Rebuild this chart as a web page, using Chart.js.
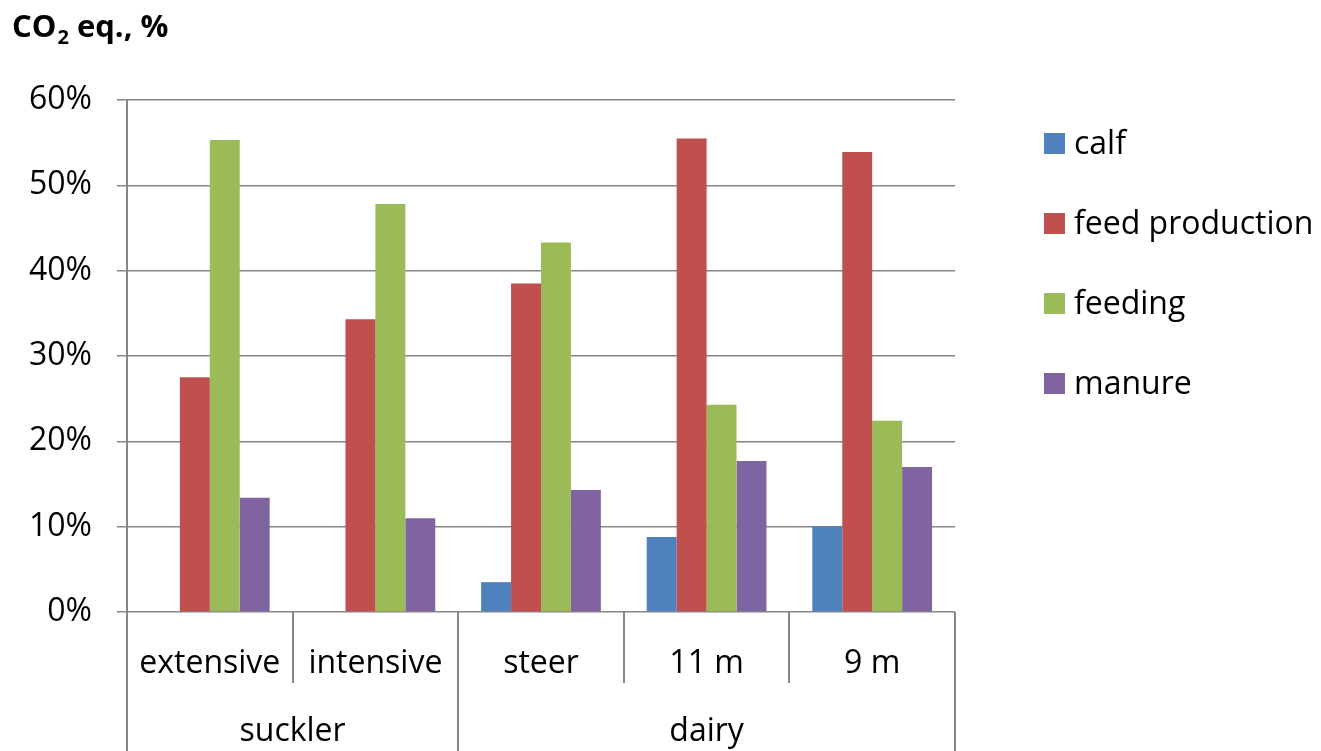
<!DOCTYPE html>
<html>
<head>
<meta charset="utf-8">
<title>CO2 eq. by production system</title>
<script src="https://cdn.jsdelivr.net/npm/chart.js@4.4.1/dist/chart.umd.min.js"></script>
<style>
  html, body { margin: 0; padding: 0; background: #fff; }
  #wrap { width: 1321px; height: 751px; }
</style>
</head>
<body>
<div id="wrap"><canvas id="barchart" width="1321" height="751"></canvas></div>
<script>
// categories and groups (two level x axis)
var categories = ["extensive", "intensive", "steer", "11 m", "9 m"];
var groupNames = ["suckler", "dairy"];
var groupSizes = [2, 3];

// series, values in % of CO2 eq.
var seriesNames = ["calf", "feed production", "feeding", "manure"];
var calf = [0, 0, 3.5, 8.8, 10.0];
var feedProduction = [27.5, 34.3, 38.5, 55.5, 53.9];
var feeding = [55.3, 47.8, 43.3, 24.3, 22.4];
var manure = [13.4, 11.0, 14.3, 17.7, 17.0];

// y axis ticks
var yTicks = [0, 10, 20, 30, 40, 50, 60];

var colors = ["#4F81BD", "#C0504D", "#9BBB59", "#8064A2"];
var lineColor = "#868686";
var fontName = "'Open Sans'";

var seriesValues = [calf, feedProduction, feeding, manure];
var datasets = [];
for (var i = 0; i < seriesNames.length; i++) {
    datasets.push({
        label: seriesNames[i],
        data: seriesValues[i],
        backgroundColor: colors[i],
        borderWidth: 0,
        categoryPercentage: 0.723,
        barPercentage: 1.0
    });
}

// draws title, group row of the x axis, separators and legend
var extras = {
    id: "extras",
    afterDraw: function (chart) {
        var ctx = chart.ctx;
        var area = chart.chartArea;
        var xs = chart.scales.x;
        var n = categories.length;

        ctx.save();

        // title with subscript
        ctx.fillStyle = "#000";
        ctx.textBaseline = "alphabetic";
        ctx.textAlign = "left";
        ctx.font = "bold 31px " + fontName;
        var tx = 12;
        ctx.fillText("CO", tx, 37);
        tx += ctx.measureText("CO").width + 1;
        ctx.font = "bold 20px " + fontName;
        ctx.fillText("2", tx, 44);
        tx += ctx.measureText("2").width;
        ctx.font = "bold 31px " + fontName;
        ctx.fillText(" eq., %", tx, 37);

        // separators between categories
        var bounds = [];
        for (var k = 0; k <= n; k++) {
            if (k === 0) bounds.push(area.left);
            else if (k === n) bounds.push(area.right);
            else bounds.push((xs.getPixelForValue(k - 1) + xs.getPixelForValue(k)) / 2);
        }
        var groupEdges = [0];
        for (var g = 0; g < groupSizes.length; g++) {
            groupEdges.push(groupEdges[g] + groupSizes[g]);
        }
        ctx.strokeStyle = lineColor;
        ctx.lineWidth = 2;
        for (var k = 0; k <= n; k++) {
            var full = groupEdges.indexOf(k) >= 0;
            var x = Math.round(bounds[k]);
            ctx.beginPath();
            ctx.moveTo(x, area.bottom);
            ctx.lineTo(x, full ? chart.height : area.bottom + 71);
            ctx.stroke();
        }

        // group labels
        ctx.font = "32px " + fontName;
        ctx.textAlign = "center";
        ctx.textBaseline = "middle";
        for (var g = 0; g < groupNames.length; g++) {
            var cx = (bounds[groupEdges[g]] + bounds[groupEdges[g + 1]]) / 2;
            ctx.fillText(groupNames[g], cx, area.bottom + 120);
        }

        // legend
        ctx.textAlign = "left";
        var lx = area.right + 89;
        for (var i = 0; i < chart.data.datasets.length; i++) {
            var ds = chart.data.datasets[i];
            var ly = area.top + 43 + i * 80;
            ctx.fillStyle = ds.backgroundColor;
            ctx.fillRect(lx, ly - 10, 21, 21);
            ctx.fillStyle = "#000";
            ctx.fillText(ds.label, lx + 30, ly + 2);
        }
        ctx.restore();
    }
};

var ctx = document.getElementById("barchart");
var barChart = new Chart(ctx, {
    type: "bar",
    data: {
        labels: categories,
        datasets: datasets
    },
    options: {
        responsive: false,
        animation: false,
        devicePixelRatio: 1,
        layout: {
            padding: { top: 100, right: 366, left: 0, bottom: 0 }
        },
        plugins: {
            legend: { display: false },
            title: { display: false },
            tooltip: { enabled: false }
        },
        scales: {
            x: {
                type: "category",
                grid: { display: false },
                border: { display: false },
                ticks: {
                    color: "#000",
                    font: { family: fontName, size: 32 },
                    padding: 25,
                    maxRotation: 0,
                    autoSkip: false
                },
                afterFit: function (scale) { scale.height = 139; }
            },
            y: {
                min: yTicks[0],
                max: yTicks[yTicks.length - 1],
                afterBuildTicks: function (scale) {
                    scale.ticks = yTicks.map(function (v) { return { value: v }; });
                },
                ticks: {
                    color: "#000",
                    font: { family: fontName, size: 32 },
                    padding: 25,
                    callback: function (v) { return v + "%"; }
                },
                grid: {
                    color: lineColor,
                    lineWidth: 1.5,
                    tickLength: 10
                },
                border: { display: true, color: lineColor, width: 2 },
                afterFit: function (scale) { scale.width = 127; }
            }
        }
    },
    plugins: [extras]
});
</script>
</body>
</html>
